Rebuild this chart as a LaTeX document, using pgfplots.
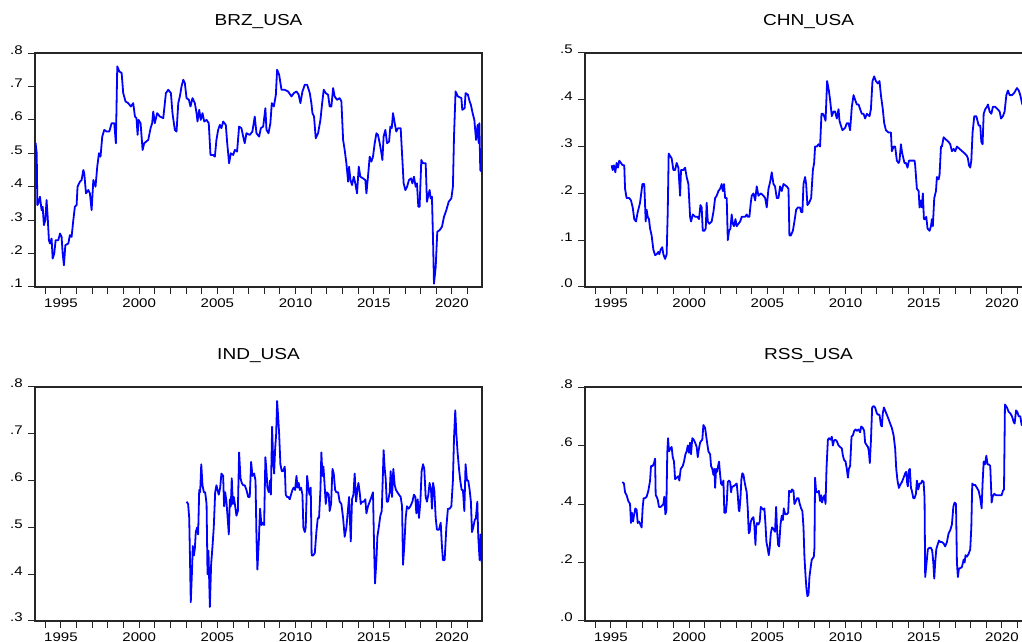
\documentclass[border=0pt]{standalone}
\usepackage{fontspec}
\setmainfont{Liberation Sans}[FakeStretch=1.2]
\usepackage{pgfplots}
\pgfplotsset{compat=1.18}
\pgfplotsset{evstyle/.style={
  scale only axis, width=335.25pt, height=175.5pt,
  xmin=1993.34, xmax=2021.92,
  xtick={1995,2000,2005,2010,2015,2020},
  xticklabels={1995,2000,2005,2010,2015,2020},
  minor xtick={1994,1995,...,2021},
  tick align=outside, xtick pos=left, ytick pos=left,
  major tick length=5pt, minor tick length=5pt,
  axis line style={black!85, line width=0.8pt},
  tick style={black!85, line width=0.75pt},
  every axis title shift=0pt,
  title style={font=\fontsize{11.9}{14}\selectfont, at={(0.5,1)}, anchor=base, yshift=20.5pt},
  tick label style={font=\fontsize{9.4}{11}\selectfont, inner sep=0pt},
  xticklabel style={anchor=base, yshift=-10.75pt},
  yticklabel style={anchor=base east, xshift=-4pt, yshift=-0.75pt},
  no markers,
  every axis plot/.append style={blue, line width=1.35pt, line join=round},
}}
\begin{document}
\begin{tikzpicture}
\useasboundingbox (0,0) rectangle (766.5pt,481.5pt);
\clip (0,0) rectangle (766.5pt,481.5pt);
% BRZ
\begin{axis}[evstyle, at={(26.25pt,266.25pt)}, anchor=south west, title={BRZ\_USA},
  ymin=0.1, ymax=0.8, ytick={0.1,0.2,0.3,0.4,0.5,0.6,0.7,0.8}, yticklabels={.1,.2,.3,.4,.5,.6,.7,.8}]
\addplot coordinates {(1993.34,0.48)(1993.38,0.53)(1993.45,0.50)(1993.49,0.345)(1993.55,0.35)(1993.66,0.37)(1993.76,0.33)(1993.83,0.34)(1993.91,0.285)(1994.00,0.30)(1994.08,0.36)(1994.15,0.31)(1994.23,0.24)(1994.30,0.23)(1994.40,0.245)(1994.47,0.185)(1994.57,0.20)(1994.66,0.24)(1994.83,0.24)(1994.94,0.26)(1995.04,0.25)(1995.11,0.20)(1995.19,0.165)(1995.28,0.225)(1995.47,0.23)(1995.57,0.255)(1995.68,0.25)(1995.79,0.30)(1995.89,0.34)(1996.00,0.345)(1996.06,0.40)(1996.21,0.415)(1996.32,0.42)(1996.43,0.45)(1996.49,0.44)(1996.60,0.38)(1996.75,0.39)(1996.85,0.38)(1996.96,0.33)(1997.07,0.42)(1997.21,0.40)(1997.32,0.46)(1997.43,0.50)(1997.53,0.49)(1997.64,0.55)(1997.77,0.57)(1997.92,0.565)(1998.09,0.565)(1998.24,0.59)(1998.41,0.59)(1998.51,0.53)(1998.60,0.76)(1998.73,0.745)(1998.88,0.74)(1998.98,0.68)(1999.13,0.655)(1999.30,0.65)(1999.47,0.64)(1999.62,0.65)(1999.73,0.61)(1999.83,0.605)(1999.90,0.555)(1999.96,0.60)(2000.09,0.59)(2000.22,0.51)(2000.32,0.53)(2000.58,0.54)(2000.73,0.575)(2000.83,0.59)(2000.90,0.625)(2001.00,0.59)(2001.15,0.62)(2001.32,0.61)(2001.54,0.605)(2001.71,0.68)(2001.86,0.69)(2002.03,0.68)(2002.13,0.62)(2002.28,0.57)(2002.39,0.565)(2002.50,0.65)(2002.60,0.67)(2002.71,0.70)(2002.82,0.72)(2002.92,0.71)(2003.03,0.665)(2003.18,0.66)(2003.28,0.64)(2003.41,0.665)(2003.56,0.65)(2003.67,0.62)(2003.73,0.595)(2003.84,0.63)(2003.94,0.60)(2004.05,0.62)(2004.16,0.595)(2004.31,0.60)(2004.45,0.59)(2004.56,0.495)(2004.73,0.495)(2004.84,0.49)(2004.94,0.54)(2005.05,0.57)(2005.16,0.585)(2005.26,0.575)(2005.37,0.595)(2005.54,0.585)(2005.63,0.53)(2005.75,0.47)(2005.86,0.50)(2006.01,0.495)(2006.12,0.51)(2006.26,0.505)(2006.39,0.58)(2006.54,0.575)(2006.65,0.55)(2006.75,0.53)(2006.86,0.56)(2007.07,0.555)(2007.24,0.565)(2007.39,0.61)(2007.50,0.56)(2007.67,0.55)(2007.78,0.575)(2007.93,0.58)(2008.07,0.635)(2008.14,0.57)(2008.27,0.56)(2008.39,0.59)(2008.48,0.65)(2008.61,0.64)(2008.74,0.675)(2008.82,0.75)(2008.95,0.735)(2009.10,0.69)(2009.31,0.69)(2009.52,0.685)(2009.74,0.67)(2009.89,0.68)(2010.06,0.685)(2010.20,0.675)(2010.31,0.65)(2010.44,0.685)(2010.59,0.705)(2010.74,0.705)(2010.91,0.68)(2011.01,0.65)(2011.08,0.62)(2011.18,0.61)(2011.29,0.545)(2011.44,0.56)(2011.59,0.60)(2011.70,0.65)(2011.80,0.69)(2011.93,0.68)(2012.08,0.675)(2012.18,0.64)(2012.29,0.64)(2012.40,0.695)(2012.50,0.67)(2012.65,0.66)(2012.82,0.665)(2012.93,0.655)(2013.04,0.54)(2013.14,0.51)(2013.25,0.47)(2013.36,0.415)(2013.42,0.46)(2013.51,0.42)(2013.61,0.405)(2013.72,0.43)(2013.82,0.41)(2013.93,0.38)(2014.04,0.46)(2014.14,0.43)(2014.31,0.425)(2014.46,0.42)(2014.53,0.38)(2014.63,0.43)(2014.74,0.49)(2014.85,0.475)(2014.95,0.49)(2015.06,0.53)(2015.17,0.56)(2015.27,0.555)(2015.38,0.53)(2015.49,0.50)(2015.55,0.48)(2015.63,0.55)(2015.74,0.57)(2015.85,0.53)(2015.98,0.535)(2016.06,0.58)(2016.15,0.575)(2016.23,0.62)(2016.34,0.59)(2016.44,0.565)(2016.55,0.575)(2016.72,0.575)(2016.83,0.48)(2016.91,0.41)(2017.02,0.39)(2017.13,0.40)(2017.25,0.42)(2017.38,0.425)(2017.47,0.41)(2017.57,0.43)(2017.68,0.40)(2017.76,0.41)(2017.85,0.34)(2017.93,0.34)(2018.04,0.48)(2018.15,0.47)(2018.32,0.47)(2018.40,0.355)(2018.47,0.37)(2018.57,0.39)(2018.64,0.365)(2018.72,0.37)(2018.79,0.24)(2018.85,0.11)(2018.96,0.16)(2019.06,0.265)(2019.21,0.27)(2019.36,0.28)(2019.49,0.31)(2019.64,0.33)(2019.79,0.355)(2019.96,0.365)(2020.06,0.40)(2020.13,0.55)(2020.23,0.685)(2020.38,0.67)(2020.60,0.665)(2020.66,0.63)(2020.81,0.635)(2020.87,0.68)(2021.02,0.675)(2021.13,0.655)(2021.21,0.645)(2021.32,0.62)(2021.43,0.60)(2021.54,0.54)(2021.64,0.585)(2021.71,0.53)(2021.75,0.59)(2021.81,0.45)(2021.90,0.445)};
\end{axis}
% CHN
\begin{axis}[evstyle, at={(438.75pt,266.25pt)}, anchor=south west, title={CHN\_USA},
  ymin=0, ymax=0.5, ytick={0,0.1,0.2,0.3,0.4,0.5}, yticklabels={.0,.1,.2,.3,.4,.5}]
\addplot coordinates {(1995.04,0.26)(1995.11,0.25)(1995.19,0.26)(1995.28,0.245)(1995.36,0.265)(1995.45,0.255)(1995.53,0.27)(1995.64,0.265)(1995.75,0.26)(1995.85,0.26)(1995.90,0.21)(1996.00,0.19)(1996.17,0.19)(1996.28,0.185)(1996.39,0.17)(1996.49,0.145)(1996.60,0.14)(1996.71,0.16)(1996.86,0.18)(1997.01,0.22)(1997.13,0.22)(1997.22,0.14)(1997.28,0.165)(1997.35,0.15)(1997.43,0.145)(1997.50,0.125)(1997.60,0.11)(1997.71,0.08)(1997.82,0.068)(1997.92,0.07)(1998.03,0.075)(1998.09,0.07)(1998.18,0.08)(1998.28,0.085)(1998.35,0.07)(1998.46,0.06)(1998.56,0.07)(1998.63,0.16)(1998.69,0.285)(1998.78,0.28)(1998.88,0.275)(1998.99,0.25)(1999.10,0.25)(1999.20,0.265)(1999.31,0.255)(1999.42,0.195)(1999.48,0.25)(1999.63,0.25)(1999.74,0.255)(1999.84,0.235)(1999.95,0.22)(2000.06,0.15)(2000.12,0.14)(2000.23,0.155)(2000.38,0.15)(2000.52,0.15)(2000.63,0.145)(2000.72,0.175)(2000.80,0.17)(2000.87,0.12)(2000.97,0.12)(2001.06,0.125)(2001.12,0.18)(2001.19,0.14)(2001.29,0.135)(2001.44,0.14)(2001.55,0.16)(2001.66,0.19)(2001.76,0.195)(2001.87,0.205)(2001.98,0.21)(2002.08,0.22)(2002.15,0.205)(2002.23,0.22)(2002.30,0.19)(2002.40,0.19)(2002.47,0.10)(2002.55,0.12)(2002.64,0.125)(2002.72,0.155)(2002.79,0.135)(2002.87,0.13)(2002.96,0.145)(2003.04,0.13)(2003.15,0.135)(2003.26,0.14)(2003.36,0.15)(2003.58,0.15)(2003.68,0.155)(2003.75,0.15)(2003.85,0.15)(2003.94,0.18)(2004.00,0.195)(2004.11,0.20)(2004.22,0.185)(2004.32,0.215)(2004.43,0.195)(2004.58,0.20)(2004.75,0.195)(2004.86,0.19)(2004.96,0.17)(2005.07,0.21)(2005.18,0.225)(2005.28,0.245)(2005.39,0.22)(2005.49,0.215)(2005.60,0.19)(2005.71,0.19)(2005.81,0.215)(2005.92,0.205)(2006.03,0.22)(2006.24,0.215)(2006.35,0.21)(2006.41,0.11)(2006.50,0.11)(2006.63,0.12)(2006.73,0.14)(2006.84,0.165)(2006.95,0.17)(2007.09,0.17)(2007.16,0.16)(2007.24,0.16)(2007.31,0.22)(2007.41,0.235)(2007.48,0.22)(2007.56,0.175)(2007.67,0.18)(2007.80,0.19)(2007.91,0.25)(2007.99,0.265)(2008.05,0.30)(2008.16,0.30)(2008.27,0.305)(2008.37,0.30)(2008.46,0.37)(2008.55,0.37)(2008.63,0.365)(2008.72,0.355)(2008.82,0.44)(2008.93,0.42)(2009.01,0.40)(2009.12,0.365)(2009.23,0.375)(2009.33,0.375)(2009.44,0.36)(2009.55,0.38)(2009.61,0.355)(2009.70,0.345)(2009.80,0.335)(2009.97,0.34)(2010.08,0.35)(2010.19,0.35)(2010.29,0.335)(2010.40,0.385)(2010.51,0.41)(2010.61,0.40)(2010.72,0.39)(2010.83,0.39)(2010.93,0.38)(2011.04,0.37)(2011.15,0.37)(2011.25,0.36)(2011.36,0.37)(2011.53,0.365)(2011.62,0.38)(2011.72,0.44)(2011.83,0.45)(2011.94,0.44)(2012.06,0.435)(2012.17,0.44)(2012.26,0.41)(2012.38,0.38)(2012.47,0.35)(2012.58,0.335)(2012.75,0.33)(2012.90,0.33)(2012.96,0.29)(2013.07,0.30)(2013.17,0.30)(2013.28,0.27)(2013.39,0.265)(2013.45,0.27)(2013.54,0.305)(2013.60,0.29)(2013.66,0.28)(2013.77,0.265)(2013.86,0.265)(2013.96,0.255)(2014.05,0.27)(2014.24,0.27)(2014.41,0.27)(2014.45,0.26)(2014.56,0.21)(2014.67,0.205)(2014.73,0.17)(2014.82,0.185)(2014.88,0.17)(2014.94,0.20)(2015.01,0.145)(2015.09,0.145)(2015.16,0.15)(2015.24,0.125)(2015.37,0.12)(2015.46,0.13)(2015.52,0.145)(2015.58,0.13)(2015.67,0.19)(2015.78,0.205)(2015.84,0.235)(2015.95,0.23)(2016.01,0.24)(2016.10,0.30)(2016.16,0.30)(2016.27,0.32)(2016.42,0.315)(2016.59,0.31)(2016.69,0.305)(2016.80,0.29)(2016.91,0.295)(2017.01,0.29)(2017.12,0.30)(2017.29,0.295)(2017.46,0.29)(2017.63,0.285)(2017.76,0.28)(2017.82,0.275)(2017.89,0.26)(2017.97,0.255)(2018.04,0.27)(2018.12,0.33)(2018.23,0.365)(2018.36,0.365)(2018.51,0.345)(2018.61,0.345)(2018.68,0.31)(2018.76,0.305)(2018.83,0.37)(2018.93,0.38)(2019.04,0.385)(2019.10,0.39)(2019.21,0.375)(2019.32,0.37)(2019.42,0.385)(2019.57,0.385)(2019.72,0.38)(2019.85,0.375)(2019.94,0.36)(2020.06,0.365)(2020.17,0.375)(2020.28,0.41)(2020.38,0.42)(2020.49,0.41)(2020.64,0.41)(2020.79,0.415)(2020.87,0.42)(2020.96,0.425)(2021.07,0.42)(2021.17,0.41)(2021.30,0.39)(2021.50,0.39)(2021.90,0.39)};
\end{axis}
% IND
\begin{axis}[evstyle, at={(26.25pt,15.75pt)}, anchor=south west, title={IND\_USA},
  ymin=0.3, ymax=0.8, ytick={0.3,0.4,0.5,0.6,0.7,0.8}, yticklabels={.3,.4,.5,.6,.7,.8}]
\addplot coordinates {(2003.03,0.555)(2003.13,0.55)(2003.20,0.52)(2003.24,0.45)(2003.30,0.34)(2003.37,0.40)(2003.43,0.46)(2003.50,0.44)(2003.56,0.455)(2003.62,0.49)(2003.71,0.50)(2003.77,0.485)(2003.84,0.58)(2003.90,0.575)(2003.97,0.635)(2004.05,0.59)(2004.14,0.575)(2004.22,0.575)(2004.31,0.55)(2004.37,0.40)(2004.43,0.45)(2004.52,0.33)(2004.60,0.42)(2004.69,0.46)(2004.77,0.50)(2004.86,0.575)(2004.94,0.59)(2005.01,0.58)(2005.09,0.57)(2005.18,0.585)(2005.26,0.615)(2005.37,0.61)(2005.43,0.545)(2005.50,0.575)(2005.58,0.555)(2005.67,0.515)(2005.73,0.485)(2005.80,0.56)(2005.86,0.545)(2005.92,0.605)(2005.99,0.55)(2006.05,0.565)(2006.14,0.545)(2006.22,0.525)(2006.31,0.535)(2006.39,0.66)(2006.48,0.605)(2006.56,0.595)(2006.65,0.59)(2006.75,0.59)(2006.86,0.58)(2006.97,0.565)(2007.07,0.565)(2007.16,0.64)(2007.24,0.61)(2007.35,0.615)(2007.44,0.60)(2007.50,0.48)(2007.56,0.41)(2007.65,0.47)(2007.73,0.54)(2007.82,0.505)(2007.93,0.51)(2007.99,0.505)(2008.07,0.65)(2008.14,0.62)(2008.20,0.585)(2008.29,0.575)(2008.37,0.60)(2008.42,0.57)(2008.50,0.715)(2008.56,0.65)(2008.63,0.615)(2008.69,0.665)(2008.76,0.70)(2008.82,0.77)(2008.88,0.74)(2008.95,0.70)(2009.03,0.635)(2009.12,0.62)(2009.20,0.62)(2009.31,0.63)(2009.37,0.57)(2009.46,0.565)(2009.54,0.565)(2009.63,0.56)(2009.71,0.57)(2009.80,0.58)(2009.88,0.585)(2009.97,0.58)(2010.06,0.61)(2010.12,0.585)(2010.20,0.595)(2010.27,0.58)(2010.35,0.585)(2010.44,0.57)(2010.50,0.50)(2010.59,0.49)(2010.65,0.50)(2010.74,0.61)(2010.82,0.585)(2010.89,0.57)(2010.97,0.585)(2011.03,0.44)(2011.12,0.44)(2011.23,0.445)(2011.33,0.49)(2011.42,0.52)(2011.50,0.52)(2011.59,0.58)(2011.65,0.66)(2011.72,0.61)(2011.78,0.63)(2011.84,0.60)(2011.93,0.55)(2012.01,0.575)(2012.12,0.57)(2012.18,0.535)(2012.27,0.55)(2012.36,0.625)(2012.44,0.615)(2012.53,0.58)(2012.61,0.575)(2012.72,0.575)(2012.82,0.555)(2012.93,0.55)(2013.04,0.52)(2013.14,0.48)(2013.25,0.50)(2013.33,0.53)(2013.42,0.565)(2013.53,0.47)(2013.61,0.56)(2013.70,0.57)(2013.78,0.615)(2013.87,0.555)(2013.95,0.58)(2014.02,0.595)(2014.10,0.575)(2014.17,0.55)(2014.25,0.555)(2014.36,0.555)(2014.46,0.56)(2014.53,0.53)(2014.63,0.545)(2014.74,0.555)(2014.85,0.565)(2014.95,0.575)(2015.02,0.46)(2015.08,0.38)(2015.17,0.43)(2015.23,0.48)(2015.32,0.50)(2015.42,0.525)(2015.51,0.535)(2015.59,0.62)(2015.63,0.665)(2015.70,0.625)(2015.76,0.605)(2015.83,0.555)(2015.91,0.555)(2016.02,0.575)(2016.08,0.62)(2016.17,0.565)(2016.25,0.625)(2016.34,0.59)(2016.42,0.58)(2016.51,0.575)(2016.61,0.57)(2016.72,0.565)(2016.81,0.545)(2016.87,0.42)(2016.95,0.46)(2017.04,0.52)(2017.12,0.545)(2017.23,0.54)(2017.34,0.545)(2017.47,0.555)(2017.57,0.57)(2017.66,0.565)(2017.72,0.53)(2017.81,0.56)(2017.89,0.52)(2017.98,0.555)(2018.06,0.62)(2018.15,0.635)(2018.23,0.625)(2018.32,0.565)(2018.40,0.555)(2018.49,0.57)(2018.57,0.595)(2018.66,0.58)(2018.72,0.54)(2018.79,0.595)(2018.87,0.58)(2018.96,0.52)(2019.04,0.495)(2019.17,0.495)(2019.28,0.51)(2019.34,0.47)(2019.42,0.43)(2019.53,0.43)(2019.64,0.50)(2019.74,0.54)(2019.85,0.54)(2019.96,0.545)(2020.06,0.60)(2020.13,0.69)(2020.21,0.75)(2020.28,0.70)(2020.36,0.66)(2020.45,0.625)(2020.53,0.60)(2020.62,0.58)(2020.70,0.58)(2020.79,0.535)(2020.87,0.635)(2020.96,0.60)(2021.04,0.60)(2021.13,0.58)(2021.21,0.555)(2021.28,0.49)(2021.36,0.50)(2021.45,0.515)(2021.53,0.52)(2021.62,0.555)(2021.68,0.48)(2021.77,0.43)(2021.83,0.485)(2021.90,0.425)};
\end{axis}
% RSS
\begin{axis}[evstyle, at={(438.75pt,15.75pt)}, anchor=south west, title={RSS\_USA},
  ymin=0, ymax=0.8, ytick={0,0.2,0.4,0.6,0.8}, yticklabels={.0,.2,.4,.6,.8}]
\addplot coordinates {(1995.73,0.475)(1995.83,0.47)(1995.90,0.44)(1996.00,0.43)(1996.11,0.41)(1996.22,0.40)(1996.28,0.335)(1996.34,0.37)(1996.41,0.34)(1996.47,0.36)(1996.56,0.385)(1996.64,0.38)(1996.71,0.335)(1996.79,0.34)(1996.88,0.33)(1996.96,0.32)(1997.03,0.39)(1997.09,0.42)(1997.18,0.42)(1997.28,0.425)(1997.39,0.445)(1997.50,0.48)(1997.56,0.53)(1997.67,0.53)(1997.75,0.54)(1997.82,0.555)(1997.86,0.43)(1997.92,0.425)(1997.99,0.415)(1998.07,0.39)(1998.18,0.39)(1998.28,0.395)(1998.35,0.40)(1998.41,0.425)(1998.48,0.365)(1998.54,0.375)(1998.60,0.575)(1998.65,0.625)(1998.71,0.58)(1998.80,0.59)(1998.88,0.595)(1998.95,0.56)(1999.03,0.545)(1999.10,0.485)(1999.20,0.49)(1999.31,0.495)(1999.37,0.48)(1999.46,0.52)(1999.59,0.53)(1999.67,0.545)(1999.76,0.57)(1999.84,0.58)(1999.91,0.60)(1999.99,0.575)(2000.06,0.61)(2000.12,0.57)(2000.20,0.625)(2000.29,0.62)(2000.38,0.61)(2000.48,0.595)(2000.55,0.56)(2000.61,0.585)(2000.70,0.61)(2000.76,0.615)(2000.84,0.62)(2000.91,0.67)(2001.02,0.66)(2001.12,0.62)(2001.23,0.58)(2001.34,0.57)(2001.40,0.53)(2001.48,0.52)(2001.55,0.50)(2001.61,0.52)(2001.66,0.455)(2001.72,0.52)(2001.78,0.51)(2001.85,0.53)(2001.91,0.545)(2001.98,0.50)(2002.04,0.47)(2002.10,0.465)(2002.19,0.48)(2002.25,0.37)(2002.34,0.37)(2002.40,0.40)(2002.47,0.475)(2002.55,0.48)(2002.62,0.475)(2002.68,0.44)(2002.74,0.46)(2002.83,0.46)(2002.94,0.465)(2003.04,0.47)(2003.11,0.43)(2003.17,0.38)(2003.21,0.375)(2003.28,0.42)(2003.34,0.485)(2003.40,0.505)(2003.47,0.50)(2003.53,0.48)(2003.60,0.46)(2003.68,0.44)(2003.75,0.38)(2003.81,0.30)(2003.87,0.305)(2003.94,0.34)(2004.02,0.35)(2004.11,0.355)(2004.17,0.325)(2004.24,0.26)(2004.28,0.32)(2004.34,0.335)(2004.43,0.33)(2004.51,0.34)(2004.58,0.39)(2004.66,0.385)(2004.75,0.38)(2004.81,0.385)(2004.88,0.33)(2004.94,0.27)(2005.03,0.245)(2005.09,0.225)(2005.15,0.25)(2005.22,0.30)(2005.30,0.32)(2005.39,0.315)(2005.49,0.305)(2005.56,0.39)(2005.62,0.31)(2005.69,0.26)(2005.75,0.255)(2005.84,0.33)(2005.92,0.36)(2005.99,0.345)(2006.05,0.385)(2006.14,0.365)(2006.24,0.365)(2006.33,0.37)(2006.39,0.445)(2006.50,0.44)(2006.58,0.45)(2006.67,0.445)(2006.73,0.40)(2006.82,0.41)(2006.90,0.42)(2006.99,0.42)(2007.07,0.40)(2007.16,0.385)(2007.24,0.375)(2007.31,0.32)(2007.37,0.22)(2007.44,0.155)(2007.50,0.11)(2007.56,0.085)(2007.63,0.09)(2007.69,0.15)(2007.76,0.18)(2007.84,0.21)(2007.91,0.215)(2007.97,0.22)(2008.01,0.25)(2008.05,0.49)(2008.12,0.44)(2008.20,0.44)(2008.29,0.445)(2008.37,0.41)(2008.44,0.43)(2008.50,0.405)(2008.57,0.42)(2008.65,0.43)(2008.72,0.40)(2008.78,0.52)(2008.87,0.62)(2008.95,0.625)(2009.04,0.62)(2009.12,0.63)(2009.19,0.60)(2009.25,0.615)(2009.33,0.62)(2009.44,0.615)(2009.55,0.60)(2009.65,0.595)(2009.76,0.59)(2009.83,0.565)(2009.91,0.55)(2010.00,0.545)(2010.08,0.52)(2010.15,0.49)(2010.21,0.52)(2010.29,0.53)(2010.38,0.63)(2010.47,0.635)(2010.55,0.65)(2010.64,0.655)(2010.72,0.65)(2010.83,0.655)(2010.93,0.645)(2011.00,0.665)(2011.10,0.66)(2011.19,0.65)(2011.25,0.61)(2011.36,0.60)(2011.43,0.595)(2011.49,0.58)(2011.55,0.54)(2011.62,0.615)(2011.70,0.73)(2011.79,0.735)(2011.89,0.73)(2012.00,0.71)(2012.09,0.705)(2012.17,0.705)(2012.26,0.67)(2012.32,0.665)(2012.38,0.71)(2012.45,0.73)(2012.53,0.72)(2012.64,0.705)(2012.75,0.69)(2012.85,0.675)(2012.96,0.66)(2013.07,0.635)(2013.17,0.59)(2013.24,0.52)(2013.32,0.48)(2013.41,0.455)(2013.49,0.465)(2013.60,0.475)(2013.71,0.49)(2013.81,0.505)(2013.88,0.51)(2013.94,0.47)(2013.98,0.46)(2014.05,0.515)(2014.11,0.52)(2014.18,0.455)(2014.24,0.445)(2014.33,0.42)(2014.41,0.42)(2014.50,0.435)(2014.56,0.48)(2014.65,0.45)(2014.73,0.47)(2014.82,0.47)(2014.90,0.48)(2014.99,0.475)(2015.05,0.42)(2015.09,0.15)(2015.18,0.20)(2015.26,0.245)(2015.35,0.25)(2015.46,0.25)(2015.54,0.24)(2015.61,0.20)(2015.67,0.145)(2015.73,0.20)(2015.80,0.245)(2015.88,0.26)(2015.97,0.275)(2016.05,0.27)(2016.16,0.27)(2016.27,0.265)(2016.37,0.255)(2016.48,0.27)(2016.59,0.30)(2016.69,0.31)(2016.80,0.33)(2016.89,0.39)(2016.97,0.405)(2017.06,0.40)(2017.12,0.20)(2017.18,0.15)(2017.25,0.18)(2017.33,0.18)(2017.44,0.185)(2017.55,0.21)(2017.61,0.20)(2017.67,0.225)(2017.76,0.22)(2017.87,0.23)(2017.97,0.245)(2018.04,0.32)(2018.10,0.47)(2018.19,0.465)(2018.29,0.465)(2018.40,0.455)(2018.51,0.445)(2018.61,0.42)(2018.70,0.385)(2018.76,0.47)(2018.83,0.545)(2018.91,0.535)(2019.00,0.565)(2019.08,0.535)(2019.17,0.535)(2019.25,0.53)(2019.34,0.405)(2019.40,0.425)(2019.51,0.435)(2019.62,0.43)(2019.72,0.43)(2019.85,0.43)(2019.98,0.43)(2020.06,0.445)(2020.13,0.45)(2020.19,0.74)(2020.32,0.73)(2020.43,0.715)(2020.53,0.71)(2020.64,0.70)(2020.75,0.68)(2020.81,0.675)(2020.90,0.72)(2020.98,0.715)(2021.07,0.70)(2021.17,0.70)(2021.26,0.67)(2021.30,0.67)(2021.50,0.69)(2021.90,0.70)};
\end{axis}
\end{tikzpicture}
\end{document}
